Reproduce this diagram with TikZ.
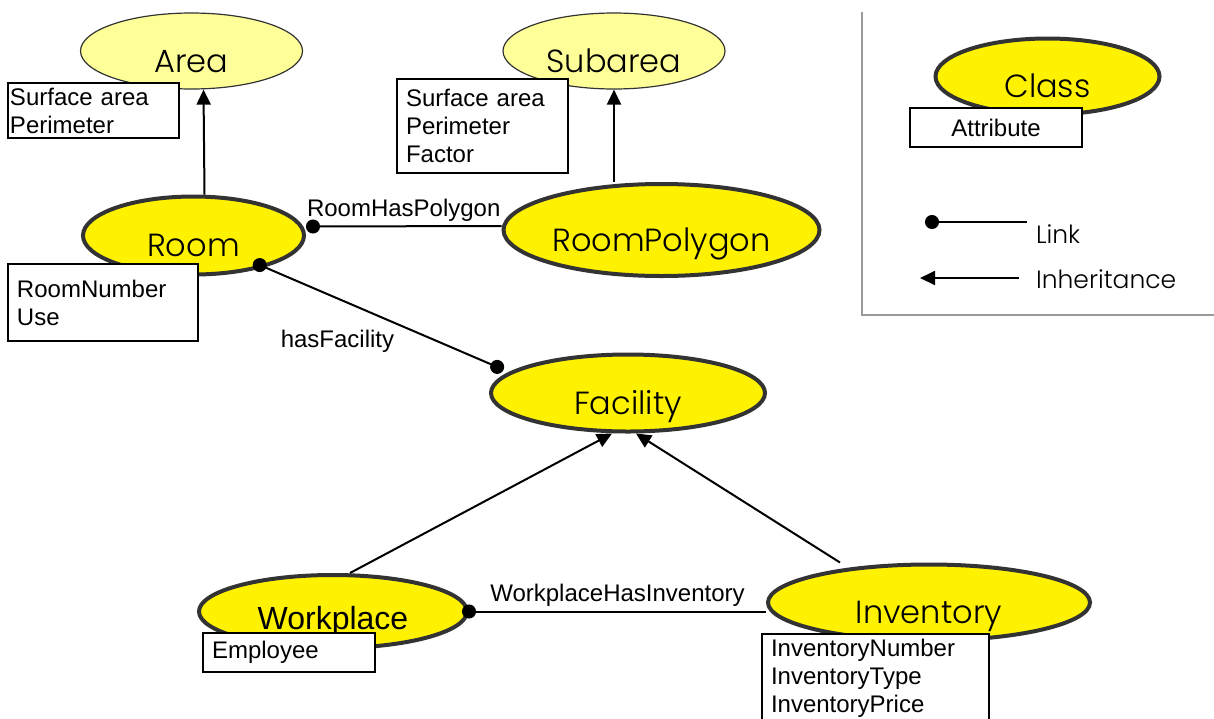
\documentclass[tikz,border=0pt]{standalone}
\usepackage{fontspec}
\setmainfont{Liberation Sans}
\newfontfamily\gothic{Poppins}[UprightFont=* Light]
\usetikzlibrary{shapes.geometric,arrows.meta}

\definecolor{clsline}{HTML}{333333}
\definecolor{paleyellow}{HTML}{FFFF99}
\definecolor{framegray}{HTML}{999999}

\tikzset{
  cls/.style={ellipse, draw=clsline, line width=2pt, fill=yellow, inner sep=0pt,
    font=\gothic\fontsize{16}{16}\selectfont, text height=21pt, text depth=0pt},
  supercls/.style={cls, line width=0.6pt, fill=paleyellow},
  attr/.style={draw, line width=0.7pt, fill=white, align=left, inner xsep=4.5pt,
    inner ysep=0pt, font=\fontsize{12}{14}\selectfont},
  link/.style={line width=1pt, {Circle[length=7pt]}-},
  linkboth/.style={line width=1pt, {Circle[length=7pt]}-{Circle[length=7pt]}},
  isa/.style={line width=1pt, -{Triangle[length=7.5pt,width=7pt]}},
  rel/.style={font=\fontsize{12}{14}\selectfont, inner sep=2pt},
  legtext/.style={font=\gothic\fontsize{12.5}{14}\selectfont, anchor=west},
}

\begin{document}
\begin{tikzpicture}[x=0.5pt, y=-0.5pt]
\path[use as bounding box, clip] (0,0) rectangle (1214,718);

% classes
\node[supercls, minimum width=111pt, minimum height=38pt] (area)    at (191.5,51) {Area};
\node[supercls, minimum width=111pt, minimum height=38pt] (subarea) at (614,51)   {Subarea};
\node[cls, minimum width=110.5pt, minimum height=39pt] (room)  at (193.5,235.5) {Room};
\node[cls, minimum width=158pt, minimum height=46pt]   (rpoly) at (661.5,230)   {RoomPolygon};
\node[cls, minimum width=137pt, minimum height=38.5pt] (facil) at (628,393)     {Facility};
\node[cls, minimum width=134pt, minimum height=36.5pt,
      font=\fontsize{16}{16}\selectfont, text height=18pt] (work) at (333,611.5) {Workplace};
\node[cls, minimum width=161pt, minimum height=38pt]   (inv)   at (929,602.5)   {Inventory};

% attributes
\node[attr, inner xsep=1pt, text width=83.5pt, minimum height=27.5pt] (areaattr) at (93.5,110.5)
  {Surface area\\Perimeter};
\node[attr, text width=76.5pt, minimum height=47pt] (subattr) at (482.5,126)
  {Surface area\\Perimeter\\Factor};
\node[attr, text width=86pt, minimum height=38.5pt] (roomattr) at (103,302.5)
  {RoomNumber\\Use};
\node[attr, text width=77pt, minimum height=19.5pt] (workattr) at (289,652.5)
  {Employee};
\node[attr, text width=104.5pt, minimum height=44pt] (invattr) at (875.5,678)
  {InventoryNumber\\InventoryType\\InventoryPrice};

% inheritance
\draw[isa] ([xshift=5.5pt]room.north) -- ([xshift=6pt]area.south);
\draw[isa] (subarea.south |- rpoly.north) -- (subarea.south);
\draw[isa] ([xshift=8.5pt]work.north) -- ([xshift=-8pt]facil.south);
\draw[isa] ([xshift=-44.5pt]inv.north) -- ([xshift=4pt]facil.south);

% links
\draw[link] ([yshift=4.5pt]room.east) -- ([yshift=2pt]rpoly.west)
  node[rel, midway, above] {RoomHasPolygon};
\draw[linkboth, shorten <=-6.25pt, shorten >=3pt] (room.-24) -- (facil.170)
  node[rel, pos=0.55, below left] {hasFacility};
\draw[link, shorten <=-3.5pt] (work.east) -- (work.east -| inv.west)
  node[rel, midway, above] {WorkplaceHasInventory};

% legend
\draw[framegray, line width=1pt] (862,12) -- (862,315) -- (1214,315);
\node[cls, minimum width=112pt, minimum height=38pt] (legcls) at (1047.5,76.5) {Class};
\node[attr, align=center, text width=77pt, minimum height=19.5pt] (legattr) at (996,127.5)
  {Attribute};
\coordinate (linkfrom) at (925,222);
\coordinate (linkto)   at (1027,222);
\draw[link] (linkfrom) -- (linkto);
\node[legtext] (linklbl) at (1029,234) {Link};
\coordinate (isafrom) at (1019,278);
\coordinate (isato)   at (920,278);
\draw[isa] (isafrom) -- (isato);
\node[legtext] (isalbl) at (1029,279) {Inheritance};

\end{tikzpicture}
\end{document}
